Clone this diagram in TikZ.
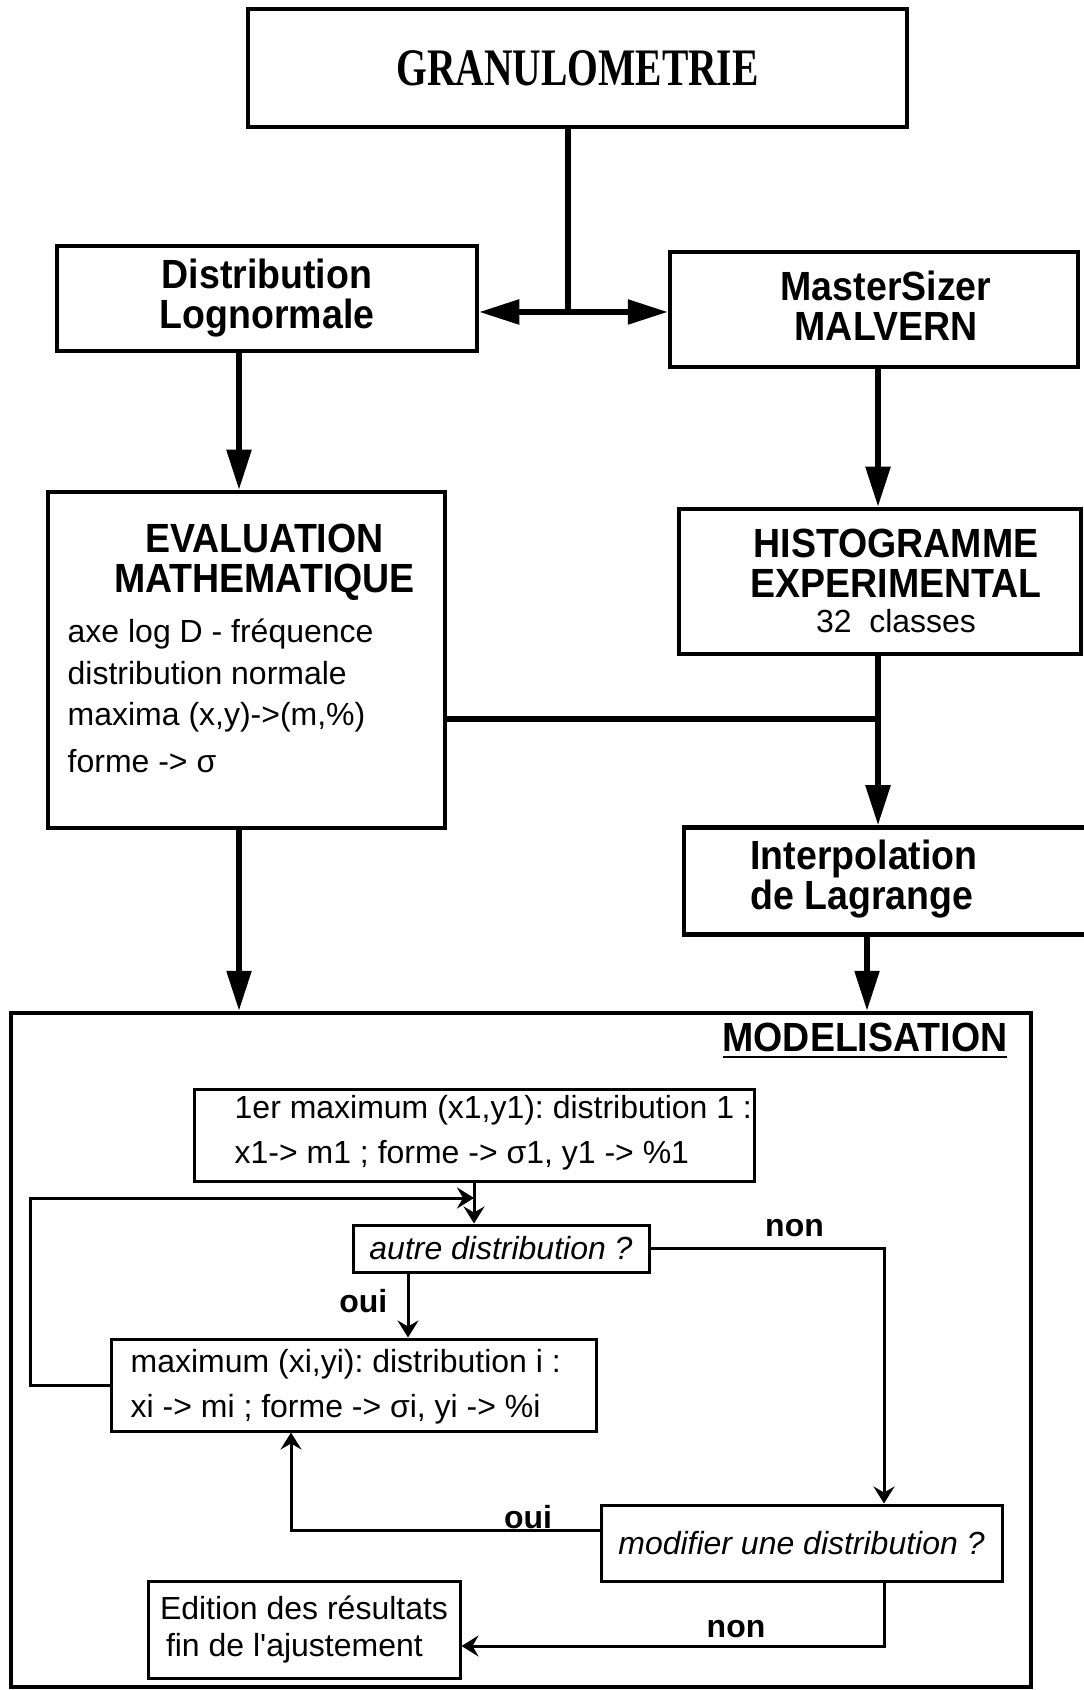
\documentclass[tikz,border=0pt]{standalone}
\usepackage{fontspec}
\setmainfont{Liberation Sans}[Ligatures=TeXOff]
\newfontfamily\headfont[FakeStretch=0.92]{Liberation Sans}
\newfontfamily\titlefont[FakeStretch=0.75]{Liberation Serif}
\usetikzlibrary{arrows.meta,calc,positioning}
\frenchspacing

\tikzset{
  heavybox/.style={draw,line width=0.45mm,inner sep=0pt},
  lightbox/.style={draw,line width=0.3mm,inner sep=0pt},
  headtext/.style={font=\headfont\bfseries\fontsize{11.6}{11.4}\selectfont,align=center},
  bodytext/.style={font=\fontsize{9.1}{12.8}\selectfont,align=left,inner sep=0pt},
  asktext/.style={font=\itshape\fontsize{9.1}{11}\selectfont},
  flowlabel/.style={font=\bfseries\fontsize{9.1}{11}\selectfont,inner sep=0pt},
  bigarrow/.style={line width=0.55mm,-{Triangle[length=4mm,width=2.4mm]}},
  smallarrow/.style={line width=0.3mm,-{Stealth[length=1.7mm,width=2.1mm,inset=0.6mm]}}
}

\begin{document}
\begin{tikzpicture}
  \path[fill=white,use as bounding box] (0,0) rectangle (10.83,-16.90);

  % upper part
  \node[heavybox,minimum width=6.59cm,minimum height=1.18cm,
    font=\titlefont\bfseries\fontsize{15}{18}\selectfont] (gran) at (5.775,-0.68) {GRANULOMETRIE};
  \node[heavybox,headtext,minimum width=4.20cm,minimum height=1.05cm] (dist) at (2.67,-2.985)
    {Distribution\\Lognormale};
  \node[heavybox,minimum width=4.08cm,minimum height=1.15cm] (master) at (8.74,-3.095) {};
  \node[headtext] (mastertext) at (8.86,-3.06) {MasterSizer\\MALVERN};

  \coordinate (split) at (5.68,-3.12);
  \coordinate (lcol) at (2.39,0);
  \coordinate (rcol) at (8.78,0);
  \coordinate (modin) at (8.67,0);
  \coordinate (join) at (8.78,-7.19);

  \draw[line width=0.55mm] (gran.south -| split) -- (split);
  \draw[bigarrow] (split) -- (dist.east |- split);
  \draw[bigarrow] (split) -- (master.west |- split);

  \node[heavybox,minimum width=3.97cm,minimum height=3.36cm] (eval) at (2.465,-6.60) {};
  \node[headtext] (evaltitle) at (2.645,-5.625) {EVALUATION\\MATHEMATIQUE};
  \node[bodytext,anchor=west,font=\fontsize{9.1}{11.8}\selectfont] (evalbody) at (0.67,-6.96)
    {axe log D - fréquence\\distribution normale\\maxima (x,y)->(m,\%)\\[0.5mm]forme -> σ};

  \node[heavybox,minimum width=4.02cm,minimum height=1.45cm] (histo) at (8.80,-5.815) {};
  \node[headtext] (histotext) at (8.96,-5.81)
    {HISTOGRAMME\\EXPERIMENTAL\\[-0.5mm]{\normalfont\fontsize{9.1}{11}\selectfont 32~~classes}};

  \node[heavybox,minimum width=4.04cm,minimum height=1.07cm] (interp) at (8.86,-8.81) {};
  \node[headtext,align=left] (interptext) at (8.64,-8.795) {Interpolation\\de Lagrange};

  \draw[bigarrow] (dist.south -| lcol) -- (eval.north -| lcol);
  \draw[bigarrow] (master.south -| rcol) -- (histo.north -| rcol);
  \draw[line width=0.55mm] (eval.east |- join) -- (join);
  \draw[bigarrow] (histo.south -| rcol) -- (interp.north -| rcol);

  % modelisation
  \node[heavybox,minimum width=10.20cm,minimum height=6.74cm] (model) at (5.21,-13.50) {};
  \node[headtext,anchor=east,inner sep=0pt] (modtitle) at (10.08,-10.41) {\underline{MODELISATION}};

  \draw[bigarrow] (eval.south -| lcol) -- (model.north -| lcol);
  \draw[bigarrow] (interp.south -| modin) -- (model.north -| modin);

  \node[lightbox,minimum width=5.60cm,minimum height=0.92cm] (first) at (4.74,-11.35) {};
  \node[bodytext,anchor=west] (firsttext) at (2.34,-11.33)
    {1er maximum (x1,y1): distribution 1 :\\x1-> m1 ; forme -> σ1, y1 -> \%1};
  \node[lightbox,asktext,minimum width=2.96cm,minimum height=0.47cm] (other) at (5.01,-12.485)
    {autre distribution ?};
  \node[lightbox,minimum width=4.85cm,minimum height=0.92cm] (maxi) at (3.535,-13.85) {};
  \node[bodytext,anchor=west] (maxitext) at (1.30,-13.865)
    {maximum (xi,yi): distribution i :\\xi -> mi ; forme -> σi, yi -> \%i};
  \node[lightbox,asktext,minimum width=4.01cm,minimum height=0.76cm] (modif) at (8.015,-15.43)
    {modifier une distribution ?};
  \node[lightbox,bodytext,font=\fontsize{9.1}{10.4}\selectfont,minimum width=3.12cm,
    minimum height=0.97cm] (edit) at (3.04,-16.295) {Edition des résultats\\\hspace*{0.6mm}fin de l'ajustement};

  \coordinate (loopin) at (4.74,-11.98);
  \coordinate (loopcorner) at (0.30,-11.98);
  \coordinate (yesx) at (4.08,0);
  \coordinate (nox) at (8.84,0);
  \coordinate (backx) at (2.91,0);
  \coordinate (yesline) at (0,-15.30);
  \coordinate (doneline) at (0,-16.46);

  \draw[smallarrow] (first.south) -- (other.north -| first.south);
  \draw[smallarrow] (maxi.west) -| (loopcorner) -- (loopin);
  \draw[smallarrow] (other.south -| yesx) -- (maxi.north -| yesx);
  \draw[smallarrow] (other.east) -| (modif.north -| nox);
  \draw[smallarrow] (modif.west |- yesline) -| (maxi.south -| backx);
  \draw[smallarrow] (modif.south -| nox) |- (edit.east |- doneline);

  \node[flowlabel,anchor=east] (yesa) at (3.88,-13.01) {oui};
  \node[flowlabel] (noa) at (7.945,-12.28) {non};
  \node[flowlabel] (yesb) at (5.28,-15.17) {oui};
  \node[flowlabel] (nob) at (7.36,-16.29) {non};
\end{tikzpicture}
\end{document}
